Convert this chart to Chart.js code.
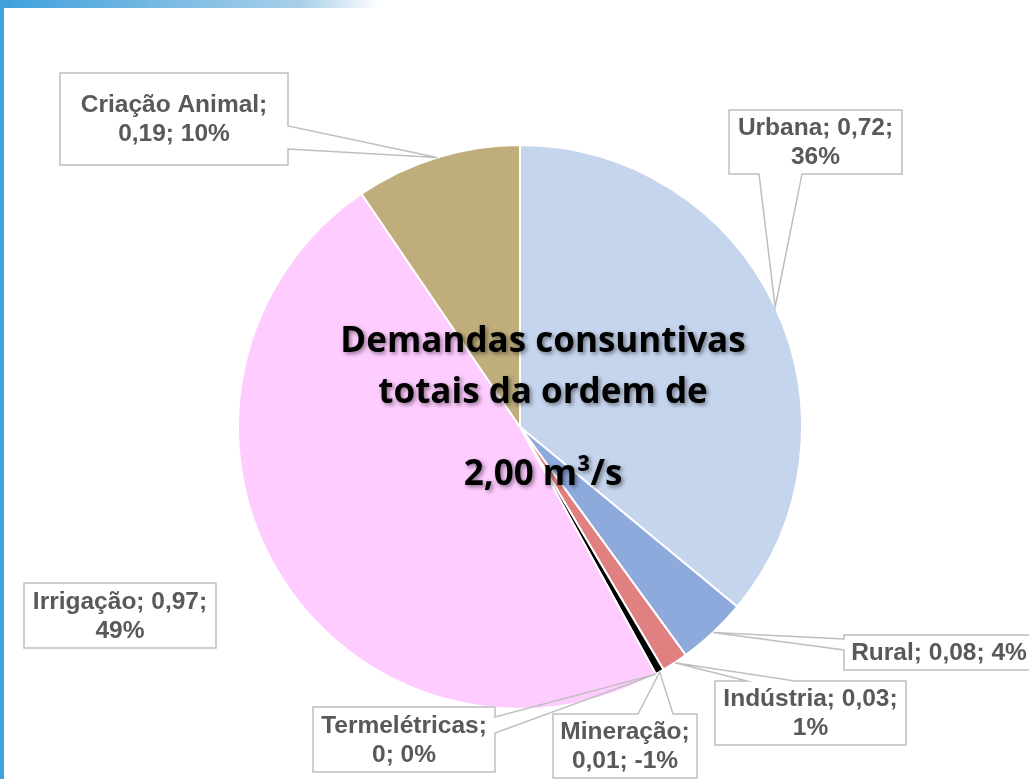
<!DOCTYPE html>
<html>
<head>
<meta charset="utf-8">
<script src="https://cdn.jsdelivr.net/npm/chart.js@4.4.1/dist/chart.umd.min.js"></script>
<style>
  html, body { margin: 0; padding: 0; background: #fff; }
  #wrap { position: relative; width: 1029px; height: 779px; overflow: hidden; }
  #topbar { position: absolute; left: 0; top: 0; width: 1029px; height: 8px;
    background: linear-gradient(to right, #3fa0dc 0px, #a8cfe9 300px, #ffffff 380px); }
  #leftbar { position: absolute; left: 0; top: 0; width: 4px; height: 779px; background: #3fa0dc; }
  canvas { position: absolute; left: 0; top: 0; }
</style>
</head>
<body>
<div id="wrap">
  <div id="topbar"></div>
  <div id="leftbar"></div>
  <canvas id="chartPie" width="1029" height="779"></canvas>
</div>
<script>
// Dados: demandas consuntivas (m3/s)
const categorias = ['Urbana', 'Rural', 'Indústria', 'Mineração', 'Termelétricas', 'Irrigação', 'Criação Animal'];
const demandas = [0.72, 0.08, 0.03, 0.01, 0, 0.97, 0.19];
const percentuais = ['36%', '4%', '1%', '-1%', '0%', '49%', '10%']; // como aparece no rótulo
const totalTexto = ['Demandas consuntivas', 'totais da ordem de', '2,00 m³/s'];

// cores das fatias
const cores = ['#c6d5ee', '#8eaadc', '#e08080', '#000000', '#7f7f7f', '#ffccff', '#bfae7c'];

// caixas dos rótulos (posição na tela) e lado do ponteiro
const caixas = [
  { x: 729, y: 110, w: 173, h: 64, lado: 'bottom', a: 759, b: 802 },
  { x: 844, y: 635, w: 190, h: 35, lado: 'left', a: 639, b: 650 },
  { x: 715, y: 681, w: 191, h: 64, lado: 'top', a: 747, b: 795 },
  { x: 553, y: 714, w: 144, h: 64, lado: 'top', a: 638, b: 673 },
  { x: 313, y: 707, w: 182, h: 65, lado: 'right', a: 717, b: 733 },
  { x: 24, y: 583, w: 192, h: 65, lado: null },
  { x: 60, y: 73, w: 228, h: 92, lado: 'right', a: 126, b: 149 }
];

function fmtValor(v) {
  return v === 0 ? '0' : v.toFixed(2).replace('.', ',');
}

function quebraLinhas(ctx, texto, largura) {
  const palavras = texto.split(' ');
  const linhas = [];
  let atual = '';
  palavras.forEach(p => {
    const teste = atual ? atual + ' ' + p : p;
    if (ctx.measureText(teste).width > largura && atual) {
      linhas.push(atual);
      atual = p;
    } else {
      atual = teste;
    }
  });
  if (atual) linhas.push(atual);
  return linhas;
}

const rotulosPlugin = {
  id: 'rotulos',
  afterDatasetsDraw(chart) {
    const ctx = chart.ctx;
    const meta = chart.getDatasetMeta(0);

    // texto central
    ctx.save();
    ctx.font = 'bold 35px "Open Sans", Lato, sans-serif';
    ctx.fillStyle = '#000';
    ctx.textAlign = 'center';
    ctx.textBaseline = 'alphabetic';
    ctx.shadowColor = 'rgba(0,0,0,0.45)';
    ctx.shadowBlur = 4;
    ctx.shadowOffsetX = 2;
    ctx.shadowOffsetY = 2;
    const cx = meta.data[0].x + 23;
    const cy = meta.data[0].y;
    ctx.fillText(totalTexto[0], cx, cy - 75);
    ctx.fillText(totalTexto[1], cx, cy - 24);
    ctx.fillText(totalTexto[2], cx, cy + 58);
    ctx.restore();

    // caixas com ponteiro
    ctx.save();
    ctx.font = 'bold 24.5px "Liberation Sans", Arial, sans-serif';
    caixas.forEach((c, i) => {
      const arc = meta.data[i];
      const p = arc.getProps(['x', 'y', 'startAngle', 'endAngle', 'outerRadius'], true);
      const meio = (p.startAngle + p.endAngle) / 2;
      const tx = p.x + Math.cos(meio) * p.outerRadius;
      const ty = p.y + Math.sin(meio) * p.outerRadius;

      ctx.fillStyle = '#fff';
      ctx.fillRect(c.x, c.y, c.w, c.h);

      const x0 = c.x, y0 = c.y, x1 = c.x + c.w, y1 = c.y + c.h;
      ctx.beginPath();
      ctx.moveTo(x0, y0);
      if (c.lado === 'top') { ctx.lineTo(c.a, y0); ctx.lineTo(tx, ty); ctx.lineTo(c.b, y0); }
      ctx.lineTo(x1, y0);
      if (c.lado === 'right') { ctx.lineTo(x1, c.a); ctx.lineTo(tx, ty); ctx.lineTo(x1, c.b); }
      ctx.lineTo(x1, y1);
      if (c.lado === 'bottom') { ctx.lineTo(c.b, y1); ctx.lineTo(tx, ty); ctx.lineTo(c.a, y1); }
      ctx.lineTo(x0, y1);
      if (c.lado === 'left') { ctx.lineTo(x0, c.b); ctx.lineTo(tx, ty); ctx.lineTo(x0, c.a); }
      ctx.closePath();
      ctx.strokeStyle = '#bfbfbf';
      ctx.lineWidth = 1.5;
      ctx.stroke();

      const texto = categorias[i] + '; ' + fmtValor(demandas[i]) + '; ' + percentuais[i];
      const linhas = quebraLinhas(ctx, texto, c.w - 6);
      const lh = 29;
      ctx.fillStyle = '#595959';
      ctx.textAlign = 'center';
      ctx.textBaseline = 'middle';
      const yIni = c.y + c.h / 2 - (linhas.length - 1) * lh / 2 + 1;
      linhas.forEach((l, k) => ctx.fillText(l, c.x + c.w / 2, yIni + k * lh));
    });
    ctx.restore();
  }
};

const ctxPie = document.getElementById('chartPie').getContext('2d');
const pieChart = new Chart(ctxPie, {
  type: 'pie',
  data: {
    labels: categorias,
    datasets: [{
      data: demandas,
      backgroundColor: cores,
      borderColor: '#ffffff',
      borderWidth: 2
    }]
  },
  options: {
    responsive: false,
    animation: false,
    layout: {
      padding: { top: 144, bottom: 69, left: 100, right: 89 }
    },
    plugins: {
      legend: { display: false },
      tooltip: { enabled: false }
    }
  },
  plugins: [rotulosPlugin]
});
</script>
</body>
</html>
